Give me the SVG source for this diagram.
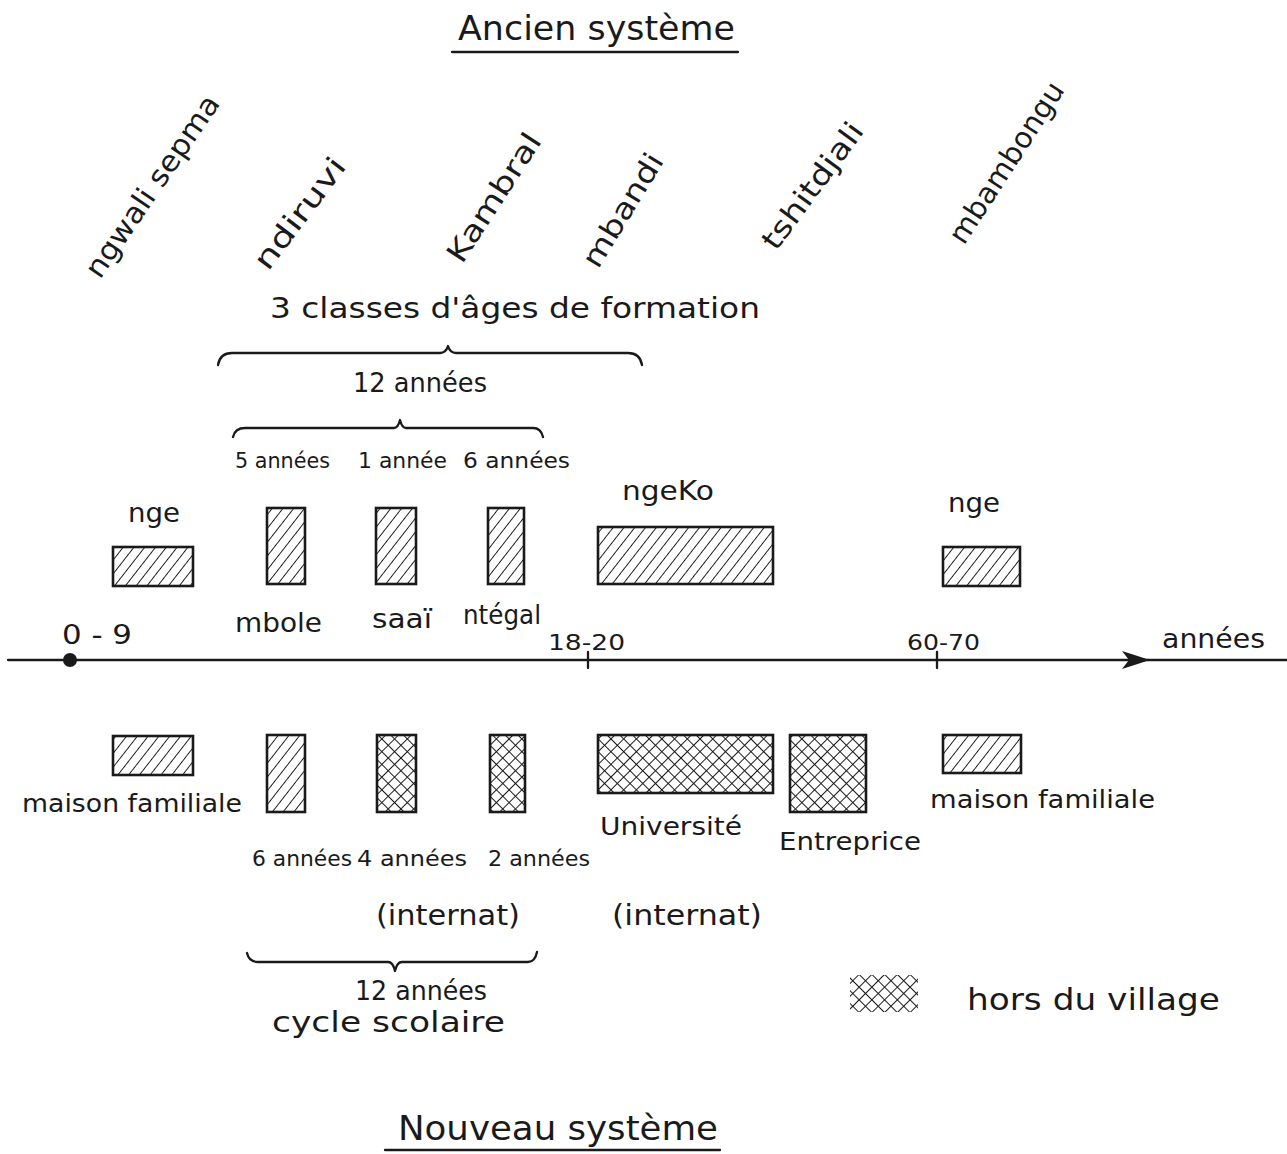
<svg xmlns="http://www.w3.org/2000/svg" width="1287" height="1154" viewBox="0 0 1287 1154">
<style>
text{font-family:"DejaVu Sans","Liberation Sans",sans-serif;fill:#1a1a1a;}
.t32{font-size:33px;}
.t28{font-size:29px;}
.t26{font-size:27px;}
.t24{font-size:25px;}
.t22{font-size:22px;}
.box{stroke:#1a1a1a;stroke-width:2.6;}
.h{fill:url(#hatch);}
.x{fill:url(#cross);}
.ln{stroke:#1a1a1a;stroke-width:2.3;fill:none;stroke-linecap:round;stroke-linejoin:round;}
</style>
<defs>
<pattern id="hatch" width="8.5" height="8.5" patternUnits="userSpaceOnUse" patternTransform="rotate(38)">
<rect width="8.5" height="8.5" fill="#fff"/>
<line x1="0" y1="0" x2="0" y2="8.5" stroke="#1a1a1a" stroke-width="1.9"/>
</pattern>
<pattern id="cross" width="9" height="9" patternUnits="userSpaceOnUse" patternTransform="rotate(45)">
<rect width="9" height="9" fill="#fff"/>
<line x1="0" y1="0" x2="0" y2="9" stroke="#1a1a1a" stroke-width="2"/>
<line x1="0" y1="0" x2="9" y2="0" stroke="#1a1a1a" stroke-width="2"/>
</pattern>
<marker id="arr" viewBox="0 0 28 18" refX="26" refY="9" markerWidth="28" markerHeight="18" markerUnits="userSpaceOnUse" orient="auto">
<path d="M0,0 L28,9 L0,18 L7,9 Z" fill="#1a1a1a"/>
</marker>
</defs>
<rect width="1287" height="1154" fill="#fff"/>

<g id="title-top">
<text class="t32" x="458" y="40" textLength="277" lengthAdjust="spacingAndGlyphs">Ancien système</text>
<line class="ln" x1="452" y1="52" x2="738" y2="52" stroke-width="2.6"/>
</g>

<g id="age-labels">
<text class="t28" transform="translate(100,280) rotate(-55.6)" textLength="214" lengthAdjust="spacingAndGlyphs">ngwali sepma</text>
<text class="t28" transform="translate(268,272) rotate(-53)" textLength="132" lengthAdjust="spacingAndGlyphs">ndiruvi</text>
<text class="t28" transform="translate(462,265) rotate(-57)" textLength="148" lengthAdjust="spacingAndGlyphs">Kambral</text>
<text class="t28" transform="translate(598,270) rotate(-58.6)" textLength="128" lengthAdjust="spacingAndGlyphs">mbandi</text>
<text class="t28" transform="translate(776,252) rotate(-53.6)" textLength="150" lengthAdjust="spacingAndGlyphs">tshitdjali</text>
<text class="t28" transform="translate(964,246) rotate(-57)" textLength="186" lengthAdjust="spacingAndGlyphs">mbambongu</text>
</g>

<g id="formation-labels">
<text class="t28" x="270" y="318" textLength="490" lengthAdjust="spacingAndGlyphs">3 classes d'âges de formation</text>
<text class="t26" x="353" y="392" textLength="134" lengthAdjust="spacingAndGlyphs">12 années</text>
<text class="t22" x="235" y="468" textLength="95" lengthAdjust="spacingAndGlyphs">5 années</text>
<text class="t22" x="358" y="468" textLength="89" lengthAdjust="spacingAndGlyphs">1 année</text>
<text class="t22" x="463" y="468" textLength="107" lengthAdjust="spacingAndGlyphs">6 années</text>
</g>

<g id="connectors">
<path class="ln" d="M218,365 Q220,353 232,353 L440,353 Q446,353 448,346 Q450,353 456,353 L628,353 Q640,353 642,365"/>
<path class="ln" d="M233,437 Q235,428 245,428 L394,428 Q398,428 400,420 Q402,428 406,428 L533,428 Q541,428 543,437"/>
<path class="ln" d="M247,953 Q249,962 258,962 L388,962 Q393,962 395,971 Q397,962 402,962 L528,962 Q535,962 537,952"/>
<line class="ln" x1="8" y1="660" x2="1148" y2="660" marker-end="url(#arr)"/>
<line class="ln" x1="1148" y1="660" x2="1287" y2="660"/>
<line class="ln" x1="588" y1="652" x2="588" y2="668"/>
<line class="ln" x1="937" y1="652" x2="937" y2="668"/>
<circle cx="70" cy="660" r="7" fill="#1a1a1a"/>
</g>

<g id="axis-labels">
<text class="t26" x="62" y="644" textLength="70" lengthAdjust="spacingAndGlyphs">0 - 9</text>
<text class="t22" x="548" y="650" textLength="77" lengthAdjust="spacingAndGlyphs">18-20</text>
<text class="t22" x="907" y="650" textLength="73" lengthAdjust="spacingAndGlyphs">60-70</text>
<text class="t26" x="1162" y="648" textLength="103" lengthAdjust="spacingAndGlyphs">années</text>
</g>

<g id="old-nge">
<text class="t26" x="128" y="522" textLength="52" lengthAdjust="spacingAndGlyphs">nge</text>
<rect class="box h" x="113" y="547" width="80" height="39"/>
</g>
<g id="old-mbole">
<rect class="box h" x="267" y="508" width="38" height="76"/>
<text class="t26" x="235" y="632" textLength="87" lengthAdjust="spacingAndGlyphs">mbole</text>
</g>
<g id="old-saai">
<rect class="box h" x="376" y="508" width="40" height="76"/>
<text class="t26" x="372" y="628" textLength="60" lengthAdjust="spacingAndGlyphs">saaï</text>
</g>
<g id="old-ntegal">
<rect class="box h" x="488" y="508" width="36" height="76"/>
<text class="t26" x="463" y="624" textLength="78" lengthAdjust="spacingAndGlyphs">ntégal</text>
</g>
<g id="old-ngeko">
<text class="t26" x="622" y="500" textLength="92" lengthAdjust="spacingAndGlyphs">ngeKo</text>
<rect class="box h" x="598" y="527" width="175" height="57"/>
</g>
<g id="old-nge2">
<text class="t26" x="948" y="512" textLength="52" lengthAdjust="spacingAndGlyphs">nge</text>
<rect class="box h" x="943" y="547" width="77" height="39"/>
</g>

<g id="new-maison1">
<rect class="box h" x="113" y="736" width="80" height="39"/>
<text class="t24" x="22" y="812" textLength="220" lengthAdjust="spacingAndGlyphs">maison familiale</text>
</g>
<g id="new-6ans">
<rect class="box h" x="267" y="735" width="38" height="77"/>
<text class="t22" x="252" y="866" textLength="100" lengthAdjust="spacingAndGlyphs">6 années</text>
</g>
<g id="new-4ans">
<rect class="box x" x="377" y="735" width="39" height="77"/>
<text class="t22" x="357" y="866" textLength="110" lengthAdjust="spacingAndGlyphs">4 années</text>
</g>
<g id="new-2ans">
<rect class="box x" x="490" y="735" width="35" height="77"/>
<text class="t22" x="488" y="866" textLength="102" lengthAdjust="spacingAndGlyphs">2 années</text>
</g>
<g id="new-internat1">
<text class="t28" x="376" y="925" textLength="144" lengthAdjust="spacingAndGlyphs">(internat)</text>
</g>
<g id="new-universite">
<rect class="box x" x="598" y="735" width="175" height="58"/>
<text class="t24" x="600" y="835" textLength="142" lengthAdjust="spacingAndGlyphs">Université</text>
<text class="t28" x="612" y="925" textLength="150" lengthAdjust="spacingAndGlyphs">(internat)</text>
</g>
<g id="new-entreprise">
<rect class="box x" x="790" y="735" width="76" height="77"/>
<text class="t24" x="779" y="850" textLength="142" lengthAdjust="spacingAndGlyphs">Entreprice</text>
</g>
<g id="new-maison2">
<rect class="box h" x="943" y="735" width="78" height="38"/>
<text class="t24" x="930" y="808" textLength="225" lengthAdjust="spacingAndGlyphs">maison familiale</text>
</g>

<g id="cycle">
<text class="t26" x="355" y="1000" textLength="132" lengthAdjust="spacingAndGlyphs">12 années</text>
<text class="t28" x="272" y="1032" textLength="233" lengthAdjust="spacingAndGlyphs">cycle scolaire</text>
</g>

<g id="legend">
<rect x="850" y="975" width="68" height="37" fill="url(#cross)"/>
<text class="t28" x="967" y="1010" textLength="253" lengthAdjust="spacingAndGlyphs" style="font-size:31px">hors du village</text>
</g>

<g id="title-bottom">
<text class="t32" x="398" y="1140" textLength="320" lengthAdjust="spacingAndGlyphs">Nouveau système</text>
<line class="ln" x1="385" y1="1150" x2="720" y2="1150" stroke-width="2.6"/>
</g>
</svg>
